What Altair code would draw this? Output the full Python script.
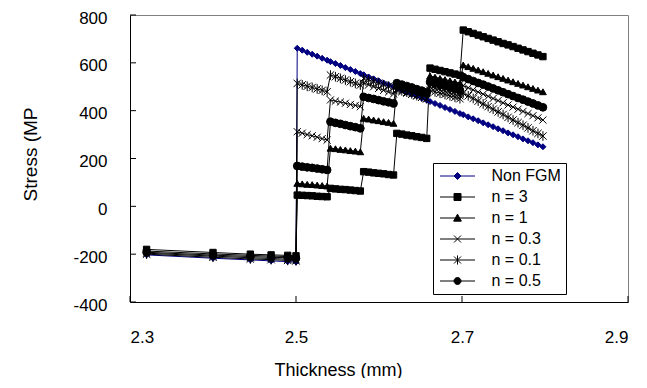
import altair as alt
import pandas as pd

# ---------------- data ----------------
series_names = ["Non FGM", "n = 3", "n = 1", "n = 0.3", "n = 0.1", "n = 0.5"]

thickness = [
    2.32, 2.40, 2.445, 2.47, 2.49, 2.50,
    2.5015, 2.5075, 2.5135, 2.5195, 2.5255, 2.5315, 2.5375,
    2.5415, 2.5475, 2.5535, 2.5595, 2.5655, 2.5715, 2.5775,
    2.5815, 2.5875, 2.5935, 2.5995, 2.6055, 2.6115, 2.6175,
    2.6215, 2.6275, 2.6335, 2.6395, 2.6455, 2.6515, 2.6575,
    2.6615, 2.6675, 2.6735, 2.6795, 2.6855, 2.6915, 2.6975,
    2.7015, 2.7075, 2.7135, 2.7195, 2.7255, 2.7315, 2.7375, 2.7435, 2.7495,
    2.7555, 2.7615, 2.7675, 2.7735, 2.7795, 2.7855, 2.7915, 2.7975,
]

stress_non_fgm = [
    -203, -217, -224, -228, -231, -233,
    661, 653, 644, 636, 628, 619, 611,
    605, 597, 589, 580, 572, 564, 555,
    550, 541, 533, 525, 516, 508, 500,
    494, 486, 477, 469, 461, 452, 444,
    438, 430, 422, 413, 405, 397, 388,
    383, 374, 366, 358, 349, 341, 333, 324, 316, 307, 299, 291, 282, 274, 266, 257, 249,
]
stress_n3 = [
    -180, -193, -200, -203, -205, -207,
    47, 46, 45, 44, 42, 41, 40,
    75, 73, 71, 70, 68, 66, 64,
    145, 143, 140, 138, 136, 133, 131,
    305, 302, 298, 295, 291, 288, 284,
    578, 573, 568, 563, 558, 553, 548,
    737, 730, 723, 716, 709, 702, 695, 688, 681, 675, 668, 661, 654, 647, 640, 633, 626,
]
stress_n1 = [
    -187, -199, -205, -208, -210, -212,
    96, 94, 92, 91, 89, 87, 85,
    243, 241, 238, 236, 233, 231, 228,
    368, 365, 361, 358, 354, 351, 347,
    505, 499, 493, 488, 482, 476, 470,
    545, 540, 535, 530, 525, 520, 515,
    591, 584, 577, 570, 563, 556, 549, 542, 535, 528, 521, 514, 507, 500, 493, 486, 479,
]
stress_n03 = [
    -196, -208, -215, -218, -221, -223,
    312, 306, 300, 295, 289, 283, 277,
    445, 440, 436, 431, 426, 422, 417,
    515, 508, 500, 493, 485, 478, 470,
    485, 479, 473, 468, 462, 456, 450,
    500, 494, 487, 481, 475, 468, 462,
    505, 496, 487, 478, 469, 460, 451, 442, 433, 424, 415, 406, 397, 388, 379, 370, 361,
]
stress_n01 = [
    -200, -213, -220, -223, -226, -228,
    514, 508, 502, 497, 491, 485, 479,
    549, 542, 535, 528, 521, 514, 507,
    535, 528, 522, 515, 508, 502, 495,
    490, 483, 477, 470, 463, 457, 450,
    485, 479, 473, 468, 462, 456, 450,
    473, 462, 451, 440, 428, 417, 406, 395, 384, 372, 361, 350, 339, 328, 316, 305, 294,
]
stress_n05 = [
    -192, -204, -210, -213, -215, -217,
    169, 166, 163, 161, 158, 155, 152,
    354, 349, 345, 340, 335, 331, 326,
    458, 453, 449, 444, 439, 435, 430,
    515, 509, 503, 497, 490, 484, 478,
    520, 514, 508, 503, 497, 491, 485,
    540, 532, 524, 516, 509, 501, 493, 485, 477, 469, 461, 453, 446, 438, 430, 422, 414,
]

x_tick_values = [2.3, 2.5, 2.7, 2.9]
y_tick_values = [-400, -200, 0, 200, 400, 600, 800]

# ---------------- styling ----------------
series_colors = ["#000080", "#000000", "#000000", "#000000", "#000000", "#000000"]
marker_shapes = [
    "diamond",
    "square",
    "triangle-up",
    "M-1,-1L1,1M-1,1L1,-1",
    "M-1,-1L1,1M-1,1L1,-1M0,-1.3L0,1.3",
    "circle",
]
marker_sizes = [36, 60, 60, 45, 45, 50]
legend_shapes = [
    "M-5,0L5,0M0,-1L1,0L0,1L-1,0Z",
    "M-5,0L5,0M-1,-1L1,-1L1,1L-1,1Z",
    "M-5,0L5,0M0,-1.1L1.1,0.9L-1.1,0.9Z",
    "M-5,0L5,0M-1,-1L1,1M-1,1L1,-1",
    "M-5,0L5,0M-1,-1L1,1M-1,1L1,-1M0,-1.3L0,1.3",
    "M-5,0L5,0M1,0A1,1,0,1,1,-1,0A1,1,0,1,1,1,0Z",
]

FONT = "Liberation Sans"
W, H = 498, 287

all_series = [stress_non_fgm, stress_n3, stress_n1, stress_n03, stress_n01, stress_n05]
rows = []
for name, vals in zip(series_names, all_series):
    for i, (t, s) in enumerate(zip(thickness, vals)):
        rows.append({"series": name, "thickness": t, "stress": s, "idx": i})
df = pd.DataFrame(rows)

xscale = alt.Scale(domain=[2.3, 2.9], nice=False, zero=False)
yscale = alt.Scale(domain=[-400, 800], nice=False, zero=False)

x_axis = alt.Axis(
    values=x_tick_values, format=".1f", title="Thickness (mm)", grid=False,
    ticks=False, tickSize=0, labelPadding=27, labelFont=FONT, labelFontSize=17,
    labelColor="black", titleFont=FONT, titleFontSize=18, titleFontWeight="normal",
    titleColor="black", domainColor="black", domainWidth=1,
    titleX=208, titleY=68, titleAlign="center", titleBaseline="middle",
)
y_axis = alt.Axis(
    values=y_tick_values, title="Stress (MP", grid=False, ticks=False, tickSize=0,
    labelPadding=23, labelOffset=3, labelExpr="datum.value + ''", labelFont=FONT,
    labelFontSize=17, labelColor="black", titleFont=FONT, titleFontSize=19,
    titleFontWeight="normal", titleColor="black", domainColor="black", domainWidth=1,
    titleX=-100, titleY=139, titleAngle=270, titleAlign="center", titleBaseline="middle",
)

x_enc = alt.X("thickness:Q", scale=xscale, axis=x_axis)
y_enc = alt.Y("stress:Q", scale=yscale, axis=y_axis)

color_scale = alt.Scale(domain=series_names, range=series_colors)

base = alt.Chart(df)

lines = base.mark_line(strokeWidth=1).encode(
    x=x_enc, y=y_enc,
    color=alt.Color("series:N", scale=color_scale, legend=None),
    order=alt.Order("idx:Q"),
)

points = base.mark_point(filled=True, opacity=1, strokeWidth=1).encode(
    x=x_enc, y=y_enc,
    shape=alt.Shape("series:N", scale=alt.Scale(domain=series_names, range=marker_shapes), legend=None),
    color=alt.Color("series:N", scale=color_scale, legend=None),
    stroke=alt.Stroke("series:N", scale=color_scale, legend=None),
    size=alt.Size("series:N", scale=alt.Scale(domain=series_names, range=marker_sizes), legend=None),
)

leg = alt.Legend(
    title=None, orient="none", legendX=303, legendY=148, padding=5,
    fillColor="white", strokeColor="black", cornerRadius=0,
    symbolSize=49, symbolStrokeWidth=1, symbolOffset=11.5, labelOffset=26,
    rowPadding=5, labelFont=FONT, labelFontSize=16, labelColor="black",
)

legend_layer = base.transform_filter("false").mark_point(filled=True, opacity=1, strokeWidth=1).encode(
    shape=alt.Shape("series:N", scale=alt.Scale(domain=series_names, range=legend_shapes), legend=leg),
    color=alt.Color("series:N", scale=color_scale, legend=leg),
    stroke=alt.Stroke("series:N", scale=color_scale, legend=leg),
)

xt_df = pd.DataFrame({"thickness": x_tick_values})
yt_df = pd.DataFrame({"stress": y_tick_values})
x_ticks = alt.Chart(xt_df).mark_rule(color="black", strokeWidth=1).encode(
    x=x_enc, y=alt.value(H), y2=alt.value(H - 6)
)
y_ticks = alt.Chart(yt_df).mark_rule(color="black", strokeWidth=1).encode(
    y=y_enc, x=alt.value(0), x2=alt.value(6)
)

chart = (
    alt.layer(x_ticks, y_ticks, lines, points, legend_layer)
    .resolve_scale(color="independent", shape="independent", stroke="independent", size="independent")
    .properties(
        width=W, height=H,
        autosize=alt.AutoSizeParams(type="none"),
        padding={"left": 122, "top": 7, "right": 9, "bottom": 76},
        background="white",
    )
    .configure_view(stroke="#808080", strokeWidth=1)
)

chart.save("out.html", embed_options={"renderer": "svg", "actions": False})
